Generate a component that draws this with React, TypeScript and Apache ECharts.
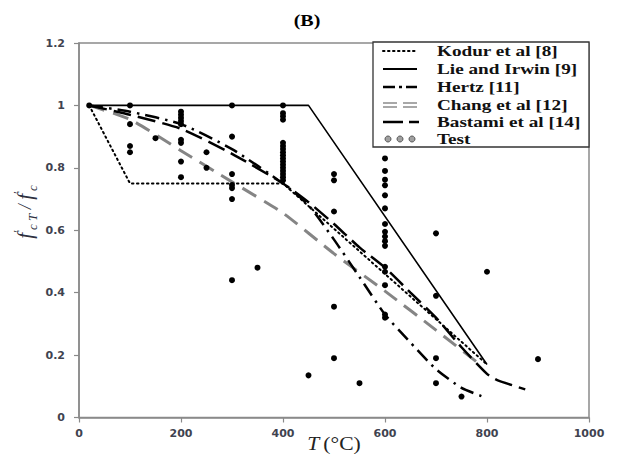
import React, { useEffect, useRef } from "react";
import * as echarts from "echarts";

// ---------- data ----------
const kodurT = [20, 100, 400, 800];
const kodurR = [1, 0.75, 0.75, 0.17];

const lieT = [20, 450, 800];
const lieR = [1, 1, 0.17];

const hertzT = [20, 100, 200, 300, 400, 450, 500, 550, 600, 650, 700, 750, 795];
const hertzR = [1, 0.98, 0.94, 0.86, 0.75, 0.68, 0.57, 0.45, 0.33, 0.24, 0.155, 0.095, 0.065];

const changT = [20, 100, 200, 300, 400, 500, 600, 700, 790];
const changR = [1, 0.955, 0.855, 0.755, 0.655, 0.525, 0.405, 0.28, 0.165];

const bastamiT = [20, 100, 200, 300, 400, 450, 500, 550, 600, 650, 700, 750, 800, 820, 875];
const bastamiR = [1, 0.97, 0.925, 0.845, 0.75, 0.69, 0.62, 0.545, 0.48, 0.4, 0.32, 0.225, 0.14, 0.12, 0.09];

const testT = [
  20,
  100, 100, 100, 100,
  150,
  200, 200, 200, 200, 200, 200, 200, 200, 200,
  250, 250,
  300, 300, 300, 300, 300, 300, 300,
  350,
  400, 400, 400, 400, 400, 400, 400, 400, 400, 400, 400, 400, 400, 400, 400, 400, 400,
  450,
  500, 500, 500, 500, 500,
  550,
  600, 600, 600, 600, 600, 600, 600, 600, 600, 600, 600, 600, 600, 600, 600, 600,
  700, 700, 700, 700,
  750,
  800,
  900,
];
const testR = [
  1.0,
  1.0, 0.94, 0.87, 0.85,
  0.895,
  0.98, 0.97, 0.96, 0.95, 0.94, 0.89, 0.88, 0.82, 0.77,
  0.85, 0.8,
  1.0, 0.9, 0.78, 0.745, 0.735, 0.7, 0.44,
  0.48,
  1.0, 0.975, 0.965, 0.954, 0.88, 0.87, 0.86, 0.85, 0.84, 0.83, 0.82, 0.81, 0.8, 0.79, 0.78, 0.77, 0.76,
  0.135,
  0.78, 0.76, 0.66, 0.355, 0.19,
  0.11,
  0.83, 0.79, 0.762, 0.744, 0.712, 0.67, 0.62, 0.595, 0.58, 0.565, 0.55, 0.483, 0.467, 0.424, 0.33, 0.32,
  0.59, 0.39, 0.19, 0.11,
  0.067,
  0.467,
  0.187,
];

const legendNames = [
  "Kodur et al [8]",
  "Lie and Irwin [9]",
  "Hertz [11]",
  "Chang et al [12]",
  "Bastami et al [14]",
  "Test",
];

const xTicks = { min: 0, max: 1000, interval: 200 };
const yTicks = { min: 0, max: 1.2, interval: 0.2 };

const pairs = (xs: number[], ys: number[]) => xs.map((x, i) => [x, ys[i]]);

export default function App() {
  const ref = useRef<HTMLDivElement>(null);

  useEffect(() => {
    if (!ref.current) return;
    const chart = echarts.init(ref.current, undefined, { renderer: "svg" });

    const serif = "'Liberation Serif', 'Times New Roman', serif";
    const axisColor = "#8a8a8a";
    const labelColor = "#3f4350";

    const lx0 = 383;
    const lx1 = 417;
    const rowY = [51, 69, 87, 105, 122, 139];
    const legendGraphics: any[] = [
      {
        type: "rect",
        shape: { x: 373, y: 42, width: 216, height: 105 },
        style: { fill: "#fff", stroke: "#333", lineWidth: 1.3 },
        z: 10,
      },
      {
        type: "line",
        shape: { x1: lx0, y1: rowY[0], x2: lx1, y2: rowY[0] },
        style: { stroke: "#000", lineWidth: 2, lineDash: [1.5, 3.5], lineCap: "round" },
        z: 11,
      },
      {
        type: "line",
        shape: { x1: lx0, y1: rowY[1], x2: lx1, y2: rowY[1] },
        style: { stroke: "#000", lineWidth: 2 },
        z: 11,
      },
      {
        type: "line",
        shape: { x1: lx0, y1: rowY[2], x2: lx1, y2: rowY[2] },
        style: { stroke: "#000", lineWidth: 2.5, lineDash: [12, 4, 3, 4] },
        z: 11,
      },
      {
        type: "line",
        shape: { x1: lx0, y1: rowY[3] - 2, x2: lx1, y2: rowY[3] - 2 },
        style: { stroke: "#8c8c8c", lineWidth: 1.3, lineDash: [14, 6] },
        z: 11,
      },
      {
        type: "line",
        shape: { x1: lx0, y1: rowY[3] + 2, x2: lx1, y2: rowY[3] + 2 },
        style: { stroke: "#8c8c8c", lineWidth: 1.3, lineDash: [14, 6] },
        z: 11,
      },
      {
        type: "line",
        shape: { x1: lx0, y1: rowY[4], x2: lx1 + 2, y2: rowY[4] },
        style: { stroke: "#000", lineWidth: 2.5, lineDash: [20, 6] },
        z: 11,
      },
      ...[388, 400, 412].map((cx) => ({
        type: "circle",
        shape: { cx, cy: rowY[5], r: 3 },
        style: { fill: "#a0a0a0", stroke: "#555", lineWidth: 1 },
        z: 11,
      })),
      ...legendNames.map((name, i) => ({
        type: "text",
        x: 437,
        y: rowY[i],
        scaleX: 1.28,
        z: 11,
        style: {
          text: name,
          font: `bold 15px ${serif}`,
          fill: "#111",
          align: "left",
          verticalAlign: "middle",
        },
      })),
    ];

    chart.setOption({
      animation: false,
      backgroundColor: "#fff",
      grid: {
        left: 79,
        right: 32,
        top: 43,
        bottom: 42.5,
        show: true,
        borderColor: axisColor,
        borderWidth: 1.5,
        backgroundColor: "transparent",
      },
      xAxis: {
        type: "value",
        min: xTicks.min,
        max: xTicks.max,
        interval: xTicks.interval,
        splitLine: { show: false },
        axisLine: { show: true, lineStyle: { color: axisColor, width: 1.5 } },
        axisTick: { show: true, length: 5, lineStyle: { color: axisColor, width: 1.2 } },
        axisLabel: {
          color: labelColor,
          fontFamily: "'DejaVu Sans', sans-serif",
          fontWeight: "bold",
          fontSize: 11,
          margin: 10,
          formatter: (v: number) => String(v),
        },
      },
      yAxis: {
        type: "value",
        min: yTicks.min,
        max: yTicks.max,
        interval: yTicks.interval,
        splitLine: { show: false },
        axisLine: { show: true, lineStyle: { color: axisColor, width: 1.5 } },
        axisTick: { show: true, length: 5, lineStyle: { color: axisColor, width: 1.2 } },
        axisLabel: {
          color: labelColor,
          fontFamily: "'DejaVu Sans', sans-serif",
          fontWeight: "bold",
          fontSize: 11,
          margin: 14,
          formatter: (v: number) => String(parseFloat(v.toFixed(1))),
        },
      },
      series: [
        {
          name: legendNames[0],
          type: "line",
          data: pairs(kodurT, kodurR),
          symbol: "none",
          lineStyle: { color: "#000", width: 2, type: [1.5, 3.5], cap: "round" },
          z: 3,
        },
        {
          name: legendNames[1],
          type: "line",
          data: pairs(lieT, lieR),
          symbol: "none",
          lineStyle: { color: "#000", width: 1.6, type: "solid" },
          z: 3,
        },
        {
          name: legendNames[2],
          type: "line",
          data: pairs(hertzT, hertzR),
          symbol: "none",
          smooth: 0.2,
          lineStyle: { color: "#000", width: 2.5, type: [14, 6, 2.5, 6] },
          z: 3,
        },
        {
          name: legendNames[3],
          type: "line",
          data: pairs(changT, changR),
          symbol: "none",
          smooth: 0.2,
          lineStyle: { color: "#858585", width: 3, type: [16, 9] },
          z: 2,
        },
        {
          name: legendNames[4],
          type: "line",
          data: pairs(bastamiT, bastamiR),
          symbol: "none",
          smooth: 0.2,
          lineStyle: { color: "#000", width: 2.5, type: [18, 7] },
          z: 3,
        },
        {
          name: legendNames[5],
          type: "scatter",
          data: pairs(testT, testR),
          symbol: "circle",
          symbolSize: 6,
          itemStyle: { color: "#000", opacity: 1 },
          z: 4,
        },
      ],
      graphic: [
        {
          type: "text",
          x: 307,
          y: 21,
          scaleX: 1.25,
          style: {
            text: "(B)",
            font: `bold 16px ${serif}`,
            fill: "#000",
            align: "center",
            verticalAlign: "middle",
          },
        },
        {
          type: "text",
          x: 334,
          y: 444,
          scaleX: 1.2,
          style: {
            text: "{i|T} {n|(°C)}",
            align: "center",
            verticalAlign: "middle",
            fill: "#222",
            rich: {
              i: { fontFamily: serif, fontStyle: "italic", fontSize: 18, fill: "#222" },
              n: { fontFamily: serif, fontSize: 18, fill: "#222" },
            },
          },
        },
        {
          type: "text",
          x: 25,
          y: 212,
          rotation: Math.PI / 2,
          style: {
            text: "{f|f}{p|′}{s|c T}{n| / }{f|f}{p|′}{s|c}",
            align: "center",
            verticalAlign: "middle",
            fill: "#2e3040",
            rich: {
              f: { fontFamily: serif, fontStyle: "italic", fontSize: 21, lineHeight: 28, fill: "#2e3040" },
              p: { fontFamily: serif, fontSize: 13, verticalAlign: "top", lineHeight: 28, fill: "#2e3040" },
              s: { fontFamily: serif, fontStyle: "italic", fontSize: 13, verticalAlign: "bottom", lineHeight: 28, fill: "#2e3040" },
              n: { fontFamily: serif, fontStyle: "italic", fontSize: 18, lineHeight: 28, fill: "#2e3040" },
            },
          },
        },
        ...legendGraphics,
      ],
    });

    return () => chart.dispose();
  }, []);

  return (
    <div
      ref={ref}
      style={{ position: "fixed", left: 0, top: 0, width: 621, height: 460, background: "#fff" }}
    />
  );
}
